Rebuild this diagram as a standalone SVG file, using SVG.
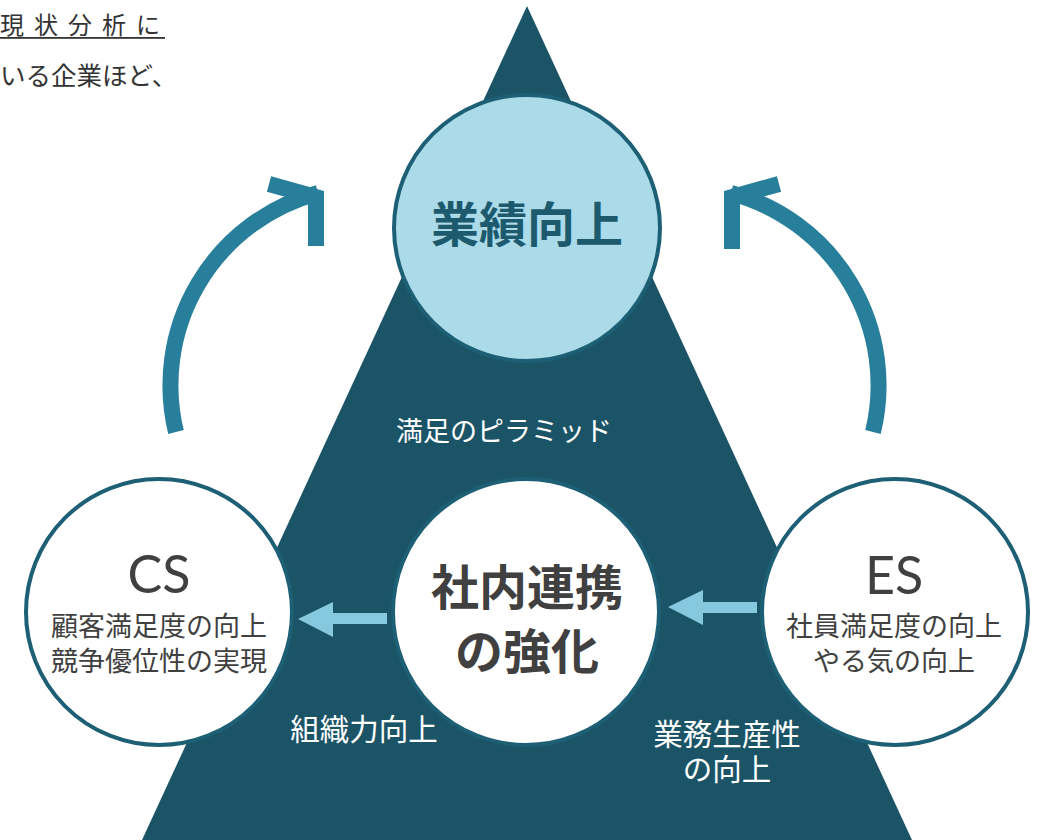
<svg xmlns="http://www.w3.org/2000/svg" width="1043" height="840" viewBox="0 0 1043 840">
<style>
.jp{font-family:"Noto Sans CJK JP","Noto Sans",sans-serif;}
.lat{font-family:Lato,"Noto Sans",sans-serif;}
.circ{fill:#ffffff;stroke:#1d5f74;stroke-width:4;}
.arc{fill:none;stroke:#287f9b;stroke-width:16;}
.small{fill:#86c9de;}
.gray{fill:#404040;}
.wt{fill:#ffffff;}
</style>
<rect width="1043" height="840" fill="#ffffff"/>
<g id="page-text">
<text class="jp" x="0" y="34" font-size="24" fill="#333333" letter-spacing="2.3" xml:space="preserve">現 状 分 析 に</text>
<rect x="0" y="37" width="165" height="1.8" fill="#333333"/>
<text class="jp" x="0" y="85" font-size="25.5" fill="#333333">いる企業ほど、</text>
</g>
<g id="pyramid">
<polygon points="527,6 142,840 912,840" fill="#1c5467"/>
<text class="jp wt" x="504" y="441" text-anchor="middle" font-size="27">満足のピラミッド</text>
<text class="jp wt" x="364" y="740" text-anchor="middle" font-size="29.5">組織力向上</text>
<text class="jp wt" x="727" y="745" text-anchor="middle" font-size="29.5">業務生産性</text>
<text class="jp wt" x="727" y="780" text-anchor="middle" font-size="29.5">の向上</text>
</g>
<g id="connectors">
<path class="arc" d="M 176 432 A 199 199 0 0 1 318 193"/>
<polyline class="arc" points="269,184 316,197 316,246" stroke-linejoin="miter"/>
<path class="arc" d="M 873 432 A 199 199 0 0 0 731 193"/>
<polyline class="arc" points="779,184 732,197 732,249" stroke-linejoin="miter"/>
<polygon class="small" points="298,619 333,602 333,613 387,613 387,624 333,624 333,637"/>
<polygon class="small" points="668,607 703,590 703,602 757,602 757,613 703,613 703,625"/>
</g>
<g id="node-top">
<circle cx="527" cy="228" r="133" fill="#abdbe9" stroke="#1d5f74" stroke-width="4"/>
<text class="jp" x="527" y="242" text-anchor="middle" font-size="48" font-weight="bold" fill="#1d5a6e">業績向上</text>
</g>
<g id="node-center">
<circle class="circ" cx="526" cy="612" r="133"/>
<text class="jp gray" x="527" y="605" text-anchor="middle" font-size="48" font-weight="bold">社内連携</text>
<text class="jp gray" x="527" y="669" text-anchor="middle" font-size="48" font-weight="bold">の強化</text>
</g>
<g id="node-cs">
<circle class="circ" cx="159" cy="612" r="133"/>
<text class="lat gray" x="159" y="593" text-anchor="middle" font-size="52">CS</text>
<text class="jp gray" x="159" y="636" text-anchor="middle" font-size="27">顧客満足度の向上</text>
<text class="jp gray" x="159" y="671" text-anchor="middle" font-size="27">競争優位性の実現</text>
</g>
<g id="node-es">
<circle class="circ" cx="895" cy="612" r="133"/>
<text class="lat gray" x="894" y="594" text-anchor="middle" font-size="52">ES</text>
<text class="jp gray" x="894" y="636" text-anchor="middle" font-size="27">社員満足度の向上</text>
<text class="jp gray" x="894" y="671" text-anchor="middle" font-size="27">やる気の向上</text>
</g>
</svg>
